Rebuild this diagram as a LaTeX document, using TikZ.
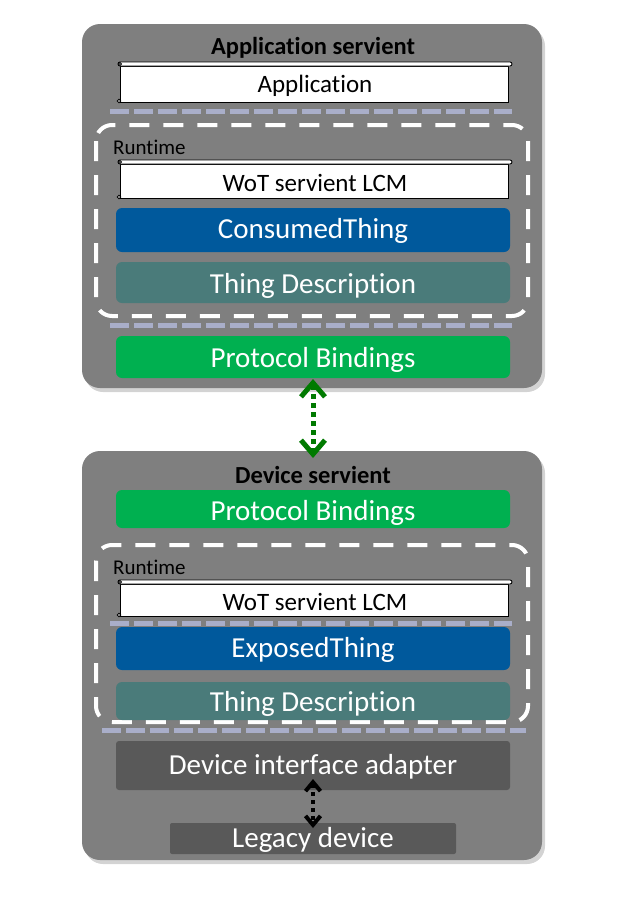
\documentclass[tikz,border=0pt]{standalone}
\usepackage{fontspec}
\setmainfont{Carlito}[Ligatures=NoCommon]
\usetikzlibrary{arrows.meta,shadows}
\definecolor{cgray}{HTML}{7F7F7F}
\definecolor{cblue}{HTML}{00599C}
\definecolor{cteal}{HTML}{4A7B7A}
\definecolor{cgreen}{HTML}{00B050}
\definecolor{cdark}{HTML}{595959}
\definecolor{clav}{HTML}{A9AEC9}
\definecolor{cagreen}{HTML}{007A00}
\tikzset{
  container/.style={fill=cgray, rounded corners=18pt, draw=none,
    drop shadow={opacity=0.35, shadow xshift=3pt, shadow yshift=-4pt}},
  layer/.style={rounded corners=6pt, draw=none},
  runtimebox/.style={draw=white, line width=4pt, dash pattern=on 20pt off 14pt, rounded corners=16pt},
  sep/.style={draw=clav, line width=5pt, dash pattern=on 19pt off 5pt},
  scrollbody/.style={fill=white, draw=black, line width=0.9pt},
  lbl/.style={inner sep=0pt, anchor=center, yshift=-2pt},
  bigtxt/.style={lbl, text=white, font=\fontsize{29}{33}\selectfont},
  midtxt/.style={lbl, font=\fontsize{25}{29}\selectfont},
  titletxt/.style={lbl, font=\bfseries\fontsize{24.5}{28}\selectfont},
  rttxt/.style={anchor=west, inner sep=0pt, font=\fontsize{21}{24}\selectfont},
}
\newcommand{\scrollbox}[5]{% x1 x2 ytop ybot name
  \path[scrollbody] (#1+2,-#3-4) rectangle (#2-4,-#4);
  \path[scrollbody, rounded corners=2pt] (#1,-#3) rectangle (#2,-#3-4);
  \path[scrollbody] (#1+1,-#4+1) circle (1.7pt);
  \path[scrollbody] (#1+2,-#3-2) circle (1.5pt);
  \coordinate (#5) at ({(#1+#2)/2},{-(#3+4+#4)/2});
}
\begin{document}
\begin{tikzpicture}[x=1pt,y=1pt]
\useasboundingbox (0,0) rectangle (626,-900);
% ---------- Application servient ----------
\path[container] (82,-24) rectangle (542,-388);
\node[titletxt] (apptitle) at (313,-46) {Application servient};
\scrollbox{118}{512}{62}{102}{appc}
\node[midtxt] (app) at (appc) {Application};
\draw[sep] (110,-111) -- (512,-111);
\draw[runtimebox] (96,-125) rectangle (528,-316);
\node[rttxt] (rt1) at (113,-147) {Runtime};
\scrollbox{118}{512}{160}{198}{lcm1c}
\node[midtxt] (lcm1) at (lcm1c) {WoT servient LCM};
\path[layer, fill=cblue] (116,-208) rectangle (510,-252);
\node[bigtxt] (ct) at (313,-229) {ConsumedThing};
\path[layer, fill=cteal] (116,-262) rectangle (510,-303);
\node[bigtxt] (td1) at (313,-284) {Thing Description};
\draw[sep] (110,-325) -- (512,-325);
\path[layer, fill=cgreen] (116,-336) rectangle (510,-378);
\node[bigtxt] (pb1) at (313,-358) {Protocol Bindings};
\coordinate (pb1b) at (313,-379);
% ---------- Device servient ----------
\path[container] (82,-451) rectangle (542,-860);
\node[titletxt] (devtitle) at (313,-473) {Device servient};
\coordinate (pb2t) at (313,-458);
\path[layer, fill=cgreen] (116,-490) rectangle (510,-528);
\node[bigtxt] (pb2) at (313,-511) {Protocol Bindings};
\draw[runtimebox] (96,-545) rectangle (528,-722);
\node[rttxt] (rt2) at (113,-567) {Runtime};
\scrollbox{118}{512}{580}{616}{lcm2c}
\node[midtxt] (lcm2) at (lcm2c) {WoT servient LCM};
\draw[sep] (110,-623) -- (512,-623);
\path[layer, fill=cblue] (116,-627) rectangle (510,-670);
\node[bigtxt] (et) at (313,-648) {ExposedThing};
\path[layer, fill=cteal] (116,-682) rectangle (510,-720);
\node[bigtxt] (td2) at (313,-702) {Thing Description};
\draw[sep] (102,-730) -- (526,-730);
\path[fill=cdark, rounded corners=3pt] (116,-741) rectangle (510,-790);
\node[bigtxt] (dia) at (313,-765) {Device interface adapter};
\coordinate (diab) at (313,-779);
\path[fill=cdark, rounded corners=2pt] (170,-823) rectangle (456,-854);
\node[bigtxt] (leg) at (313,-838) {Legacy device};
\coordinate (legt) at (313,-828);
% ---------- arrows ----------
\draw[cagreen, line width=5pt, dash pattern=on 5pt off 4pt,
  {Straight Barb[length=14pt,width=24pt,line width=5pt]}-{Straight Barb[length=14pt,width=24pt,line width=5pt]}]
  (pb1b) -- (pb2t);
\draw[black, line width=4pt, dash pattern=on 4pt off 4pt,
  {Straight Barb[length=9pt,width=15pt,line width=4pt]}-{Straight Barb[length=9pt,width=15pt,line width=4pt]}]
  (diab) -- (legt);
\end{tikzpicture}
\end{document}
